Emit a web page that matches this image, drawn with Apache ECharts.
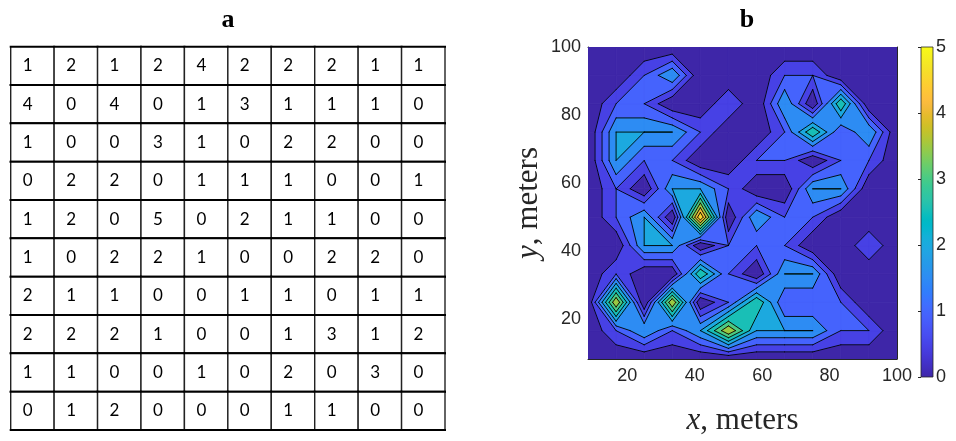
<!DOCTYPE html>
<html><head><meta charset="utf-8">
<script src="https://cdn.jsdelivr.net/npm/echarts@6/dist/echarts.min.js"></script>
<style>html,body{margin:0;padding:0;background:#fff}#c{width:956px;height:441px}</style>
</head><body><div id="c"></div>
<script>
// ---- data ----
const tableRows = [
  [1,2,1,2,4,2,2,2,1,1],
  [4,0,4,0,1,3,1,1,1,0],
  [1,0,0,3,1,0,2,2,0,0],
  [0,2,2,0,1,1,1,0,0,1],
  [1,2,0,5,0,2,1,1,0,0],
  [1,0,2,2,1,0,0,2,2,0],
  [2,1,1,0,0,1,1,0,1,1],
  [2,2,2,1,0,0,1,3,1,2],
  [1,1,0,0,1,0,2,0,3,0],
  [0,1,2,0,0,0,1,1,0,0]
];
// contour grid positions (meters); table padded with a zero border
const xCoords = [8.333,16.667,25,33.333,41.667,50,58.333,66.667,75,83.333,91.667,100];
const yCoords = [8.333,16.667,25,33.333,41.667,50,58.333,66.667,75,83.333,91.667,100];
const contourLevels = [0,0.5,1,1.5,2,2.5,3,3.5,4,4.5,5];
const xTicks = [20,40,60,80,100];
const yTicks = [20,40,60,80,100];
const cMin = 0, cMax = 5;

// parula colormap (64)
const parula = [[0.2422,0.1504,0.6603],[0.2504,0.1650,0.7076],[0.2578,0.1818,0.7511],[0.2647,0.1978,0.7952],[0.2706,0.2147,0.8364],[0.2751,0.2342,0.8710],[0.2783,0.2559,0.8991],[0.2803,0.2782,0.9221],[0.2813,0.3006,0.9414],[0.2810,0.3228,0.9579],[0.2795,0.3447,0.9717],[0.2760,0.3667,0.9829],[0.2699,0.3892,0.9906],[0.2602,0.4123,0.9952],[0.2440,0.4358,0.9988],[0.2206,0.4603,0.9973],[0.1963,0.4847,0.9892],[0.1834,0.5074,0.9798],[0.1786,0.5289,0.9682],[0.1764,0.5499,0.9520],[0.1687,0.5703,0.9359],[0.1540,0.5902,0.9218],[0.1460,0.6091,0.9079],[0.1380,0.6276,0.8973],[0.1248,0.6459,0.8883],[0.1113,0.6635,0.8763],[0.0952,0.6798,0.8598],[0.0689,0.6948,0.8394],[0.0297,0.7082,0.8163],[0.0036,0.7203,0.7917],[0.0067,0.7312,0.7660],[0.0433,0.7411,0.7394],[0.0964,0.7500,0.7120],[0.1408,0.7584,0.6842],[0.1717,0.7670,0.6554],[0.1938,0.7758,0.6251],[0.2161,0.7843,0.5923],[0.2470,0.7918,0.5567],[0.2906,0.7973,0.5188],[0.3406,0.8008,0.4789],[0.3909,0.8029,0.4354],[0.4456,0.8024,0.3909],[0.5044,0.7993,0.3480],[0.5616,0.7942,0.3045],[0.6174,0.7876,0.2612],[0.6720,0.7793,0.2227],[0.7242,0.7698,0.1910],[0.7738,0.7598,0.1646],[0.8203,0.7498,0.1535],[0.8634,0.7406,0.1596],[0.9035,0.7330,0.1774],[0.9393,0.7288,0.2100],[0.9728,0.7298,0.2394],[0.9956,0.7434,0.2371],[0.9970,0.7659,0.2199],[0.9952,0.7893,0.2028],[0.9892,0.8136,0.1885],[0.9786,0.8386,0.1766],[0.9676,0.8639,0.1643],[0.9610,0.8890,0.1537],[0.9597,0.9135,0.1423],[0.9628,0.9373,0.1265],[0.9691,0.9606,0.1064],[0.9769,0.9839,0.0805]];
function rgb(c){return 'rgb('+Math.round(c[0]*255)+','+Math.round(c[1]*255)+','+Math.round(c[2]*255)+')';}
function levelColor(l){let i=Math.floor((l-cMin)/(cMax-cMin)*64);i=Math.max(0,Math.min(63,i));return rgb(parula[i]);}

// ---- padded grid ----
const nx = xCoords.length, ny = yCoords.length;
const Z = [];
for (let j=0;j<ny;j++){const row=[];for(let i=0;i<nx;i++){row.push((j>=1&&j<=tableRows.length&&i>=1&&i<=tableRows[0].length)?tableRows[j-1][i-1]:0);}Z.push(row);}

// ---- marching squares (fills + lines), saddle resolved by cell-centre mean ----
const fills = [], lines = [];
contourLevels.forEach(function(l){
  const col = levelColor(l);
  for (let j=0;j<ny-1;j++) for (let i=0;i<nx-1;i++){
    const c=[[xCoords[i],yCoords[j],Z[j][i]],[xCoords[i+1],yCoords[j],Z[j][i+1]],[xCoords[i+1],yCoords[j+1],Z[j+1][i+1]],[xCoords[i],yCoords[j+1],Z[j+1][i]]];
    const ins=c.map(p=>p[2]>=l);
    const pts=[], cr=[], edgeCross=[null,null,null,null];
    for (let k=0;k<4;k++){
      const a=c[k], b=c[(k+1)%4];
      const ia=ins[k], ib=ins[(k+1)%4];
      if (ia) pts.push([a[0],a[1]]);
      if (ia!==ib){const t=(l-a[2])/(b[2]-a[2]);const p=[a[0]+t*(b[0]-a[0]),a[1]+t*(b[1]-a[1])];pts.push(p);cr.push({p:p,out:ia});edgeCross[k]=p;}
    }
    const n=cr.length;
    const centre=(c[0][2]+c[1][2]+c[2][2]+c[3][2])/4;
    if (n===4 && centre<l){
      for (let k=0;k<4;k++){ if(ins[k]){
        const pa=edgeCross[k], pb=edgeCross[(k+3)%4];
        fills.push({pts:[[c[k][0],c[k][1]],pa,pb],color:col});
        lines.push([pa,pb]);
      }}
    } else {
      if (pts.length>=3) fills.push({pts:pts,color:col});
      for (let m=0;m<n;m++){ if(cr[m].out){ const q=cr[(m+1)%n]; lines.push([cr[m].p,q.p]); } }
    }
  }
});

// ---- table cells ----
const tableData=[];
tableRows.forEach(function(r,ri){r.forEach(function(v,ci){tableData.push([ci,ri,v]);});});

const serif = 'Liberation Serif';
const sans = 'Liberation Sans';
const axisCol = '#262626';

const chart = echarts.init(document.getElementById('c'), null, {renderer:'canvas'});
chart.setOption({
  animation:false,
  title:[
    {text:'a',left:223,top:2,textAlign:'center',textStyle:{fontFamily:serif,fontWeight:'bold',fontSize:26,color:'#000'}},
    {text:'b',left:742,top:2,textAlign:'center',textStyle:{fontFamily:serif,fontWeight:'bold',fontSize:26,color:'#000'}}
  ],
  grid:[
    {left:10.7,top:46.7,width:434.3,height:383.3},
    {left:588,top:47,width:309,height:330},
    {left:921,top:47,width:12,height:330}
  ],
  xAxis:[
    {gridIndex:0,type:'category',data:tableRows[0].map((_,i)=>i),show:false},
    {gridIndex:1,type:'value',min:xCoords[0],max:xCoords[nx-1],position:'bottom',
      axisLine:{show:true,lineStyle:{color:axisCol,width:1}},
      axisTick:{show:true,inside:true,length:4,customValues:xTicks,lineStyle:{color:axisCol}},
      axisLabel:{show:true,customValues:xTicks,margin:8,fontFamily:sans,fontSize:18,color:axisCol},
      splitLine:{show:false},
      name:'{i|x}, meters',nameLocation:'middle',nameGap:46,
      nameTextStyle:{fontFamily:serif,fontSize:31,color:axisCol,rich:{i:{fontFamily:serif,fontStyle:'italic',fontSize:31,color:axisCol}}}},
    {gridIndex:1,type:'value',min:xCoords[0],max:xCoords[nx-1],position:'top',
      axisLine:{show:true,lineStyle:{color:axisCol,width:1}},
      axisTick:{show:true,inside:true,length:4,customValues:xTicks,lineStyle:{color:axisCol}},
      axisLabel:{show:false},splitLine:{show:false}},
    {gridIndex:2,type:'value',min:0,max:1,show:false}
  ],
  yAxis:[
    {gridIndex:0,type:'category',data:tableRows.map((_,i)=>i),inverse:true,show:false},
    {gridIndex:1,type:'value',min:yCoords[0],max:yCoords[ny-1],position:'left',
      axisLine:{show:true,lineStyle:{color:axisCol,width:1}},
      axisTick:{show:true,inside:true,length:4,customValues:yTicks,lineStyle:{color:axisCol}},
      axisLabel:{show:true,customValues:yTicks,margin:7,fontFamily:sans,fontSize:18,color:axisCol},
      splitLine:{show:false},
      name:'{i|y}, meters',nameLocation:'middle',nameGap:44,nameRotate:90,
      nameTextStyle:{fontFamily:serif,fontSize:31,color:axisCol,rich:{i:{fontFamily:serif,fontStyle:'italic',fontSize:31,color:axisCol}}}},
    {gridIndex:1,type:'value',min:yCoords[0],max:yCoords[ny-1],position:'right',
      axisLine:{show:true,lineStyle:{color:axisCol,width:1}},
      axisTick:{show:true,inside:true,length:4,customValues:yTicks,lineStyle:{color:axisCol}},
      axisLabel:{show:false},splitLine:{show:false}},
    {gridIndex:2,type:'value',min:cMin,max:cMax,interval:1,position:'right',
      axisLine:{show:false},
      axisTick:{show:true,inside:true,length:3,lineStyle:{color:axisCol}},
      axisLabel:{show:true,margin:3,fontFamily:sans,fontSize:18,color:axisCol},
      splitLine:{show:false}}
  ],
  series:[
    {type:'custom',xAxisIndex:0,yAxisIndex:0,data:tableData,clip:false,
      renderItem:function(params,api){
        const c=api.coord([api.value(0),api.value(1)]);
        const s=api.size([1,1]);
        const x0=c[0]-s[0]/2,x1=c[0]+s[0]/2,y0=c[1]-s[1]/2,y1=c[1]+s[1]/2;
        return {type:'group',children:[
          {type:'rect',shape:{x:x0,y:y0,width:s[0],height:s[1]},style:{fill:'#fff'}},
          {type:'line',shape:{x1:x0,y1:y0,x2:x0,y2:y1},style:{stroke:'#222',lineWidth:1.4}},
          {type:'line',shape:{x1:x1,y1:y0,x2:x1,y2:y1},style:{stroke:'#222',lineWidth:1.4}},
          {type:'line',shape:{x1:x0-1,y1:y0,x2:x1+1,y2:y0},style:{stroke:'#000',lineWidth:2}},
          {type:'line',shape:{x1:x0-1,y1:y1,x2:x1+1,y2:y1},style:{stroke:'#000',lineWidth:2}},
          {type:'text',x:x0+12,y:c[1],style:{text:String(api.value(2)),fill:'#000',font:'17px Lato',verticalAlign:'middle',align:'left'}}
        ]};
      }},
    {type:'custom',xAxisIndex:1,yAxisIndex:1,clip:true,
      data:fills.map(f=>f.pts[0]),
      renderItem:function(params,api){
        const f=fills[params.dataIndex];
        return {type:'polygon',shape:{points:f.pts.map(p=>api.coord(p))},style:{fill:f.color,stroke:f.color,lineWidth:0.8}};
      }},
    {type:'custom',xAxisIndex:1,yAxisIndex:1,clip:true,
      data:lines.map(s=>s[0]),
      renderItem:function(params,api){
        const s=lines[params.dataIndex];
        const a=api.coord(s[0]),b=api.coord(s[1]);
        return {type:'line',shape:{x1:a[0],y1:a[1],x2:b[0],y2:b[1]},style:{stroke:'#000',lineWidth:0.9,lineCap:'round'}};
      }},
    {type:'custom',xAxisIndex:3,yAxisIndex:3,clip:false,
      data:[[0,cMin,cMax]],
      renderItem:function(params,api){
        const a=api.coord([0,api.value(1)]),b=api.coord([1,api.value(2)]);
        const stops=parula.map((c,i)=>({offset:i/63,color:rgb(c)}));
        return {type:'rect',shape:{x:a[0],y:b[1],width:b[0]-a[0],height:a[1]-b[1]},
          style:{fill:{type:'linear',x:0,y:1,x2:0,y2:0,colorStops:stops},stroke:axisCol,lineWidth:0.8}};
      }}
  ]
});
</script></body></html>
